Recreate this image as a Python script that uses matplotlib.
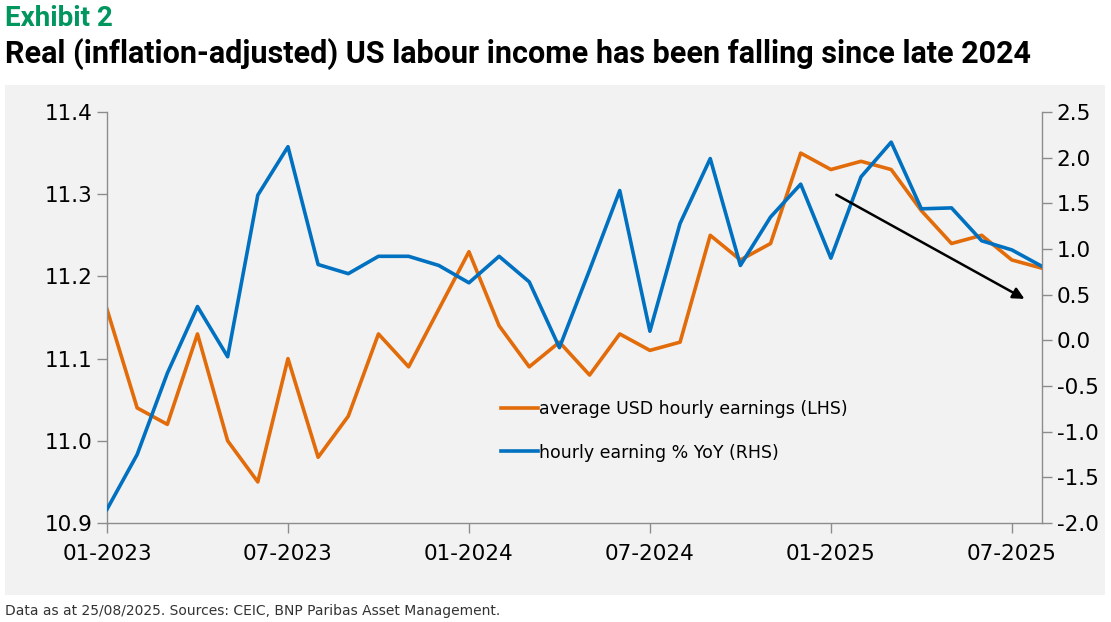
import matplotlib
matplotlib.use("Agg")
import matplotlib.pyplot as plt
from matplotlib.patches import Rectangle
from matplotlib import font_manager
import numpy as np

# monthly data, 01-2023 .. 08-2025
months = ["01-2023", "02-2023", "03-2023", "04-2023", "05-2023", "06-2023", "07-2023", "08-2023",
          "09-2023", "10-2023", "11-2023", "12-2023", "01-2024", "02-2024", "03-2024", "04-2024",
          "05-2024", "06-2024", "07-2024", "08-2024", "09-2024", "10-2024", "11-2024", "12-2024",
          "01-2025", "02-2025", "03-2025", "04-2025", "05-2025", "06-2025", "07-2025", "08-2025"]
hourly_earnings = [11.16, 11.04, 11.02, 11.13, 11.00, 10.95, 11.10, 10.98,
                   11.03, 11.13, 11.09, 11.16, 11.23, 11.14, 11.09, 11.12,
                   11.08, 11.13, 11.11, 11.12, 11.25, 11.22, 11.24, 11.35,
                   11.33, 11.34, 11.33, 11.28, 11.24, 11.25, 11.22, 11.21]
earning_yoy = [-1.85, -1.25, -0.36, 0.37, -0.18, 1.59, 2.12, 0.83,
               0.73, 0.92, 0.92, 0.82, 0.63, 0.92, 0.64, -0.08,
               0.77, 1.64, 0.10, 1.28, 1.99, 0.82, 1.35, 1.71,
               0.90, 1.79, 2.17, 1.44, 1.45, 1.09, 0.99, 0.81]
tick_labels = ["01-2023", "07-2023", "01-2024", "07-2024", "01-2025", "07-2025"]

available = {f.name for f in font_manager.fontManager.ttflist}
narrow = "Liberation Sans Narrow" if "Liberation Sans Narrow" in available else "Roboto"

orange = "#E26B0A"
blue = "#0070C0"
grey = "#8C8C8C"

fig = plt.figure(figsize=(11.11, 6.22), dpi=100)
fig.patches.append(Rectangle((5 / 1111, 1 - 595 / 622), 1100 / 1111, 510 / 622,
                             transform=fig.transFigure, facecolor="#F2F2F2",
                             edgecolor="none", zorder=-5))

ax = fig.add_axes([107 / 1111, 1 - 523 / 622, 935 / 1111, 411 / 622])
ax.set_facecolor("none")
x = np.arange(len(months))
ax.plot(x, hourly_earnings, color=orange, lw=2.6, label="average USD hourly earnings (LHS)")
ax.set_xlim(0, len(months) - 1)
ax.set_ylim(10.9, 11.4)
ax.set_yticks(np.arange(10.9, 11.41, 0.1))
ax.set_yticklabels([f"{v:.1f}" for v in np.arange(10.9, 11.41, 0.1)])
ax.set_xticks([months.index(m) for m in tick_labels])
ax.set_xticklabels(tick_labels)

ax2 = ax.twinx()
ax2.set_facecolor("none")
ax2.plot(x, earning_yoy, color=blue, lw=2.6, label="hourly earning % YoY (RHS)")
ax2.set_ylim(-2.0, 2.5)
ax2.set_yticks(np.arange(-2.0, 2.51, 0.5))
ax2.set_yticklabels([f"{v:.1f}" for v in np.arange(-2.0, 2.51, 0.5)])

for a in (ax, ax2):
    for s in a.spines.values():
        s.set_color(grey)
        s.set_linewidth(1)
    a.spines["top"].set_visible(False)
    a.tick_params(colors=grey, labelcolor="black", labelsize=15.5, length=7, width=1)
ax.spines["right"].set_visible(False)
ax2.spines["left"].set_visible(False)
ax2.spines["bottom"].set_visible(False)
ax.tick_params(axis="x", pad=8)

# trend arrow
ax2.annotate("", xy=(30.5, 11.171), xytext=(24.1, 11.301), xycoords=ax.transData,
             textcoords=ax.transData,
             arrowprops=dict(arrowstyle="-|>", color="black", lw=1.8, mutation_scale=17))

h1, l1 = ax.get_legend_handles_labels()
h2, l2 = ax2.get_legend_handles_labels()
leg = ax2.legend(h1 + h2, l1 + l2, loc="center left", bbox_to_anchor=(0.405, 0.224),
                 frameon=False, fontsize=12.5, handlelength=2.1, handletextpad=0.05,
                 labelspacing=1.45)

fig.text(5 / 1111, 1 - 18 / 622, "Exhibit 2", color="#00965E", fontsize=20,
         fontweight="bold", family=[narrow, "DejaVu Sans"], va="center")
fig.text(5 / 1111, 1 - 54 / 622,
         "Real (inflation-adjusted) US labour income has been falling since late 2024",
         color="black", fontsize=22, fontweight="bold", family=[narrow, "DejaVu Sans"],
         va="center")
fig.text(5 / 1111, 1 - 611 / 622,
         "Data as at 25/08/2025. Sources: CEIC, BNP Paribas Asset Management.",
         color="#333333", fontsize=10, va="center")

fig.savefig("out.png", dpi=100)
